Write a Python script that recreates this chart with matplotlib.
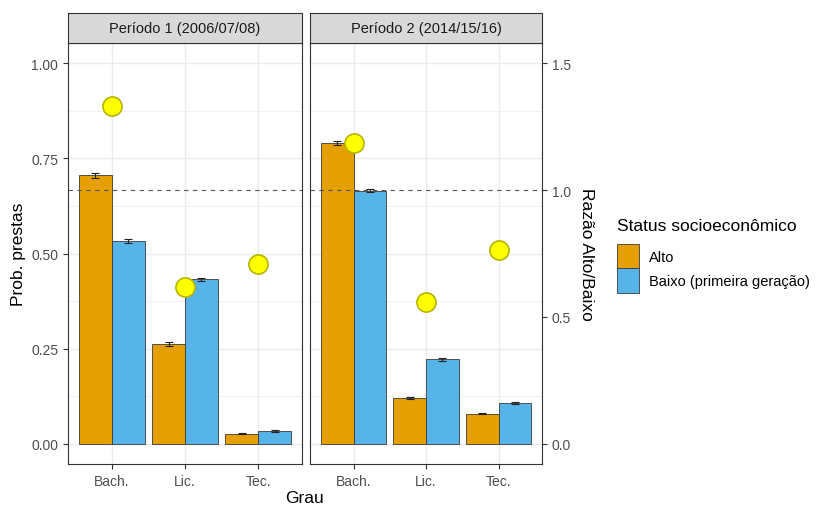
import numpy as np
import matplotlib
matplotlib.use("Agg")
import matplotlib.pyplot as plt
from matplotlib.patches import Patch
from matplotlib.ticker import MultipleLocator

plt.rcParams["font.family"] = ["Liberation Sans", "DejaVu Sans"]

# ── data ──────────────────────────────────────────────────────────────
CATEGORIES = ["Bach.", "Lic.", "Tec."]
PANELS = ["Período 1 (2006/07/08)", "Período 2 (2014/15/16)"]

ALTO_P1 = [0.705, 0.263, 0.027]
BAIXO_P1 = [0.533, 0.432, 0.035]
ALTO_P2 = [0.790, 0.120, 0.080]
BAIXO_P2 = [0.665, 0.222, 0.108]

ALTO_ERR_P1 = [0.006, 0.005, 0.002]
BAIXO_ERR_P1 = [0.005, 0.004, 0.003]
ALTO_ERR_P2 = [0.004, 0.003, 0.002]
BAIXO_ERR_P2 = [0.003, 0.004, 0.003]

RATIO_P1 = [1.33, 0.617, 0.71]
RATIO_P2 = [1.186, 0.558, 0.762]

SEC_SCALE = 1.5   # razão = prob * 1.5

COL_ALTO = "#E69F00"
COL_BAIXO = "#56B4E9"
GRID = "#EBEBEB"
BORDER = "#333333"
TXT = "#4D4D4D"
TICK_FS = 10.0
TITLE_FS = 12.5

fig = plt.figure(figsize=(8.17, 5.06), dpi=100)
W, H = 817, 506

def fx(px):
    return px / W

def fy(py):
    return 1 - py / H

bottom, top = fy(465), fy(44)
lefts = [68, 310]
rights = [302, 542]

series = [
    (ALTO_P1, BAIXO_P1, ALTO_ERR_P1, BAIXO_ERR_P1, RATIO_P1),
    (ALTO_P2, BAIXO_P2, ALTO_ERR_P2, BAIXO_ERR_P2, RATIO_P2),
]

x = np.arange(len(CATEGORIES))
bw = 0.45
axes = []
for i, (alto, baixo, ea, eb, ratio) in enumerate(series):
    ax = fig.add_axes([fx(lefts[i]), bottom,
                       fx(rights[i]) - fx(lefts[i]), top - bottom])
    axes.append(ax)
    ax.set_xlim(-0.6, 2.6)
    ax.set_ylim(-0.0525, 1.0525)
    ax.yaxis.set_major_locator(MultipleLocator(0.25))
    ax.yaxis.set_minor_locator(MultipleLocator(0.125))
    ax.set_xticks(x)
    ax.grid(True, which="major", color=GRID, lw=1.0, zorder=0)
    ax.grid(True, which="minor", axis="y", color=GRID, lw=0.5, zorder=0)
    ax.set_axisbelow(True)

    ax.bar(x - bw / 2, alto, bw, color=COL_ALTO, edgecolor="#3a3a3a",
           lw=0.6, zorder=2)
    ax.bar(x + bw / 2, baixo, bw, color=COL_BAIXO, edgecolor="#3a3a3a",
           lw=0.6, zorder=2)
    ax.errorbar(x - bw / 2, alto, yerr=ea, fmt="none", ecolor="#222222",
                elinewidth=0.8, capsize=3, capthick=0.8, zorder=3)
    ax.errorbar(x + bw / 2, baixo, yerr=eb, fmt="none", ecolor="#222222",
                elinewidth=0.8, capsize=3, capthick=0.8, zorder=3)

    ax.axhline(1.0 / SEC_SCALE, color="#555555", lw=0.8, ls=(0, (4, 4)),
               zorder=4)
    ax.scatter(x, np.array(ratio) / SEC_SCALE, s=190, color="#FFFF00",
               edgecolor="#B5B500", lw=1.2, zorder=5)

    for s in ax.spines.values():
        s.set_color(BORDER)
        s.set_linewidth(0.8)
    ax.tick_params(which="both", direction="out", color=BORDER,
                   labelcolor=TXT, labelsize=TICK_FS, length=3.5, width=0.8)
    ax.tick_params(which="minor", length=0)
    ax.set_xticklabels(CATEGORIES)
    if i == 0:
        ax.set_yticklabels([f"{v:.2f}" for v in ax.get_yticks()])
        ax.set_ylabel("Prob. prestas", fontsize=TITLE_FS, color="black",
                      labelpad=4)
    else:
        ax.tick_params(axis="y", which="both", left=False, labelleft=False)

    # facet strip
    sax = fig.add_axes([fx(lefts[i]), top,
                        fx(rights[i]) - fx(lefts[i]), fy(14) - top])
    sax.set_facecolor("#D9D9D9")
    sax.set_xticks([])
    sax.set_yticks([])
    for s in sax.spines.values():
        s.set_color(BORDER)
        s.set_linewidth(0.8)
    sax.text(0.5, 0.5, PANELS[i], ha="center", va="center",
             fontsize=10.5, color="#1A1A1A", transform=sax.transAxes)

# secondary axis on the right panel
sec = axes[1].secondary_yaxis("right",
                              functions=(lambda p: p * SEC_SCALE,
                                         lambda r: r / SEC_SCALE))
sec.set_yticks([0.0, 0.5, 1.0, 1.5])
sec.set_yticklabels(["0.0", "0.5", "1.0", "1.5"])
sec.tick_params(direction="out", color=BORDER, labelcolor=TXT,
                labelsize=TICK_FS, length=3.5, width=0.8)
sec.spines["right"].set_visible(False)
sec.set_ylabel("Razão Alto/Baixo", fontsize=TITLE_FS, rotation=-90,
               va="bottom", labelpad=6)

fig.text((fx(68) + fx(542)) / 2, fy(499), "Grau", ha="center",
         va="center", fontsize=TITLE_FS)

handles = [Patch(facecolor=COL_ALTO, edgecolor="#3a3a3a", lw=0.6),
           Patch(facecolor=COL_BAIXO, edgecolor="#3a3a3a", lw=0.6)]
leg = fig.legend(handles, ["Alto", "Baixo (primeira geração)"],
                 title="Status socioeconômico", loc="upper left",
                 bbox_to_anchor=(fx(614), fy(216)), frameon=False,
                 fontsize=10.5, title_fontsize=TITLE_FS, handlelength=1.5,
                 handleheight=2.2, labelspacing=0.0, handletextpad=0.7,
                 borderaxespad=0, borderpad=0.2)
leg._legend_box.align = "left"
leg._legend_box.sep = 8

fig.savefig("out.png", dpi=100)
